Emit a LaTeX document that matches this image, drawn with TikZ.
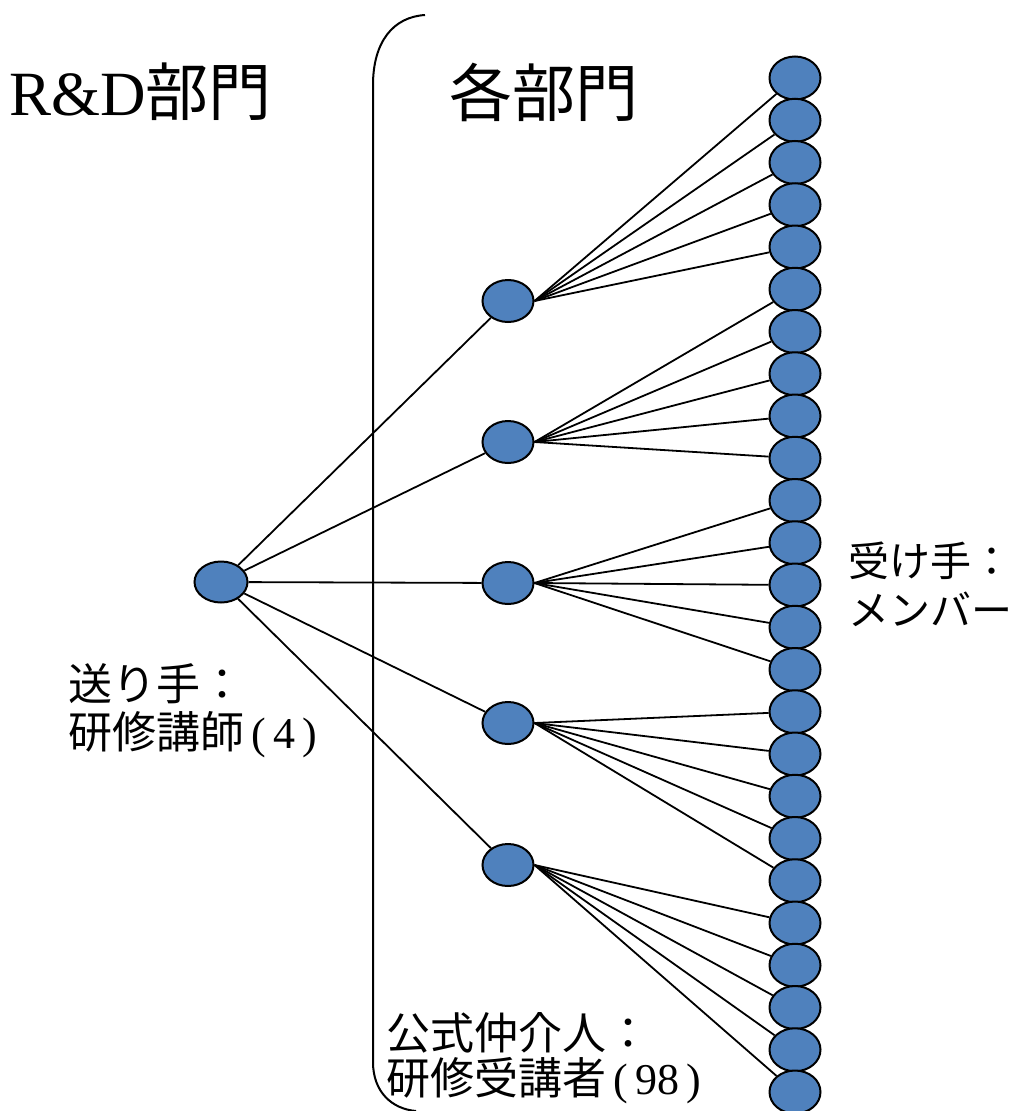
\documentclass[tikz,border=0pt]{standalone}
\usepackage{fontspec}
\setmainfont{Liberation Serif}
\newfontfamily\jp{Noto Sans CJK JP}
\usetikzlibrary{shapes.geometric}
\definecolor{nodeblue}{HTML}{4F81BD}
\begin{document}
\begin{tikzpicture}[x=1pt,y=-1pt,
  dot/.style={ellipse,draw=black,line width=2pt,fill=nodeblue,inner sep=0pt,minimum width=51pt,minimum height=42pt},
  rdot/.style={ellipse,draw=black,line width=2pt,fill=nodeblue,inner sep=0pt,minimum width=51pt,minimum height=43pt},
  link/.style={line width=1.8pt,black},
  bigtxt/.style={inner sep=0pt,anchor=west,font=\fontsize{63}{70}\selectfont},
  midtxt/.style={inner sep=0pt,anchor=west,font=\fontsize{44}{50}\selectfont},
  smalltxt/.style={inner sep=0pt,anchor=west,font=\fontsize{41}{46}\selectfont}]
\useasboundingbox (0,0) rectangle (1020,1111);
% bracket
\draw[line width=2pt] (425,15) .. controls (393,17) and (373,42) .. (373,85)
  -- (373,1062) .. controls (373,1092) and (392,1109) .. (416,1111);
% titles
\node[bigtxt] (t1) at (9,92) {R\&D{\jp 部門}};
\node[bigtxt] (t2) at (449,92) {\jp 各部門};
% nodes
\node[dot,minimum width=53pt,minimum height=41pt] (s) at (221,582) {};
\foreach \k/\y in {1/301,2/442,3/583,4/723,5/865}
  \node[dot] (m\k) at (508,\y) {};
\foreach \i in {1,...,25}
  \node[rdot] (r\i) at (795,{78+(\i-1)*42.25}) {};
% connectors
\foreach \k in {1,...,5}
  \draw[link] (s) -- (m\k);
\foreach \k in {1,...,5}
  \foreach \j in {1,...,5}
    \pgfmathtruncatemacro{\idx}{(\k-1)*5+\j}
    \draw[link] (m\k.east) -- (r\idx);
% labels
\node[smalltxt] (l1a) at (848,561) {\jp 受け手：};
\node[smalltxt] (l1b) at (848,609) {\jp メンバー};
\node[midtxt] (l2a) at (68,684) {\jp 送り手：};
\node[midtxt] (l2b) at (68,735) {{\jp 研修講師}\,(\,4\,)};
\node[midtxt] (l3a) at (386,1033) {\jp 公式仲介人：};
\node[midtxt] (l3b) at (386,1081) {{\jp 研修受講者}\,(\,98\,)};
\end{tikzpicture}
\end{document}
